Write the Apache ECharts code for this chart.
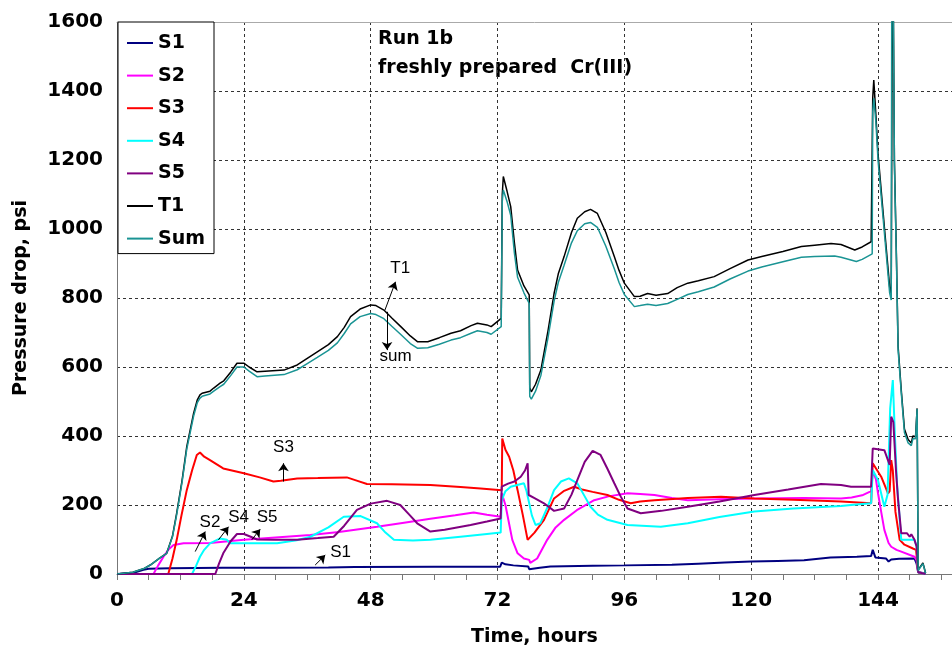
<!DOCTYPE html>
<html><head><meta charset="utf-8">
<script src="https://cdn.jsdelivr.net/npm/echarts@6/dist/echarts.min.js"></script>
<style>html,body{margin:0;padding:0;background:#fff}#c{width:952px;height:656px}</style>
</head><body><div id="c"></div>
<script>
// ---- data: [time (hours), pressure drop (psi)] ----
const seriesNames = ['S1','S2','S3','S4','S5','T1','Sum'];
const seriesColors = ['#000080','#FF00FF','#FF0000','#00FFFF','#800080','#000000','#1A9494'];
const seriesWidths = [2,2,2,2,2,1.5,1.5];

const s1 = [[0,0],[3,3],[5,12],[6,15],[10,17],[20,18],[30,18],[40,19],[45,20],[60,21],[72.5,21],[72.8,33],[73.5,28],[75,25],[77.8,22],[78,14],[80,18],[82,22],[90,24],[96,25],[105,27],[110,30],[115,33],[120,36],[125,38],[130,40],[135,48],[140,50],[142.7,52],[143,70],[143.5,48],[145.5,45],[146,36],[146.5,42],[148,44],[150.9,45],[151.3,30],[151.6,5],[152.5,3],[153,0]];

const s2 = [[0,0],[6.9,0],[7.8,25],[8.8,50],[9.8,72],[10.7,84],[12.6,89],[17.6,90],[24,99],[30,106],[36.6,113],[42,122],[49.2,137],[54,148],[59.3,160],[64,170],[67.5,178],[70,172],[72.6,166],[72.8,234],[73.5,200],[74.8,99],[75.8,60],[77,45],[78,41],[78.2,32],[79.5,45],[81.4,99],[83,135],[84.6,157],[87,185],[90.3,214],[93,225],[96.6,234],[99,232],[101.7,229],[105,220],[108,214],[114,217],[120.6,219],[130,220],[137,219],[139,222],[141,228],[142.7,240],[143,300],[143.6,275],[144,234],[144.6,180],[145.2,128],[146,90],[146.5,79],[147.5,70],[148.4,65],[150.9,50],[151.3,40],[151.6,5],[153,0]];

const s3 = [[0,0],[9.7,0],[10.5,45],[11.3,99],[12.2,170],[13.2,243],[14.2,300],[15.1,345],[15.7,352],[16.5,340],[17.6,330],[20.1,306],[24,292],[27,280],[29.6,268],[31,270],[34.1,277],[38,278],[43.5,280],[45.5,270],[47.3,261],[52,260],[59.3,258],[65,252],[68.8,248],[72.8,243],[72.9,393],[73.5,360],[74.2,340],[75,300],[75.8,243],[76.8,170],[77.7,99],[78,100],[79,120],[80.8,157],[82.7,219],[84.5,240],[86.5,253],[88,245],[90,238],[92.8,229],[95,215],[97.2,205],[99,210],[101.7,214],[108,220],[114.3,224],[120.6,219],[128,215],[137,210],[142.7,205],[143,321],[143.3,321],[144.6,282],[145.9,234],[146.2,240],[146.5,330],[146.8,300],[147.3,180],[148.1,99],[149,85],[150.6,74],[151.2,70],[151.6,5],[153,0]];

const s4 = [[0,0],[14.2,0],[15,25],[15.7,50],[16.5,70],[17.6,89],[19.5,103],[20.8,99],[21.4,89],[24,89],[30.3,89],[34,98],[36.6,108],[40,135],[42.9,166],[46.1,168],[49.2,147],[50.8,120],[52.4,99],[56,97],[59.3,99],[65,108],[70,116],[72.6,120],[72.8,214],[73.5,240],[74.5,253],[77,263],[77.5,240],[78.5,170],[79.2,142],[80.1,147],[81.5,195],[82.7,243],[84,268],[85.5,277],[87.1,263],[88.5,225],[89.6,195],[91,172],[92.8,157],[96.6,142],[102.9,137],[108,147],[114,165],[120.6,181],[128,190],[137,197],[138.9,200],[142.7,205],[143,301],[143.4,290],[144,272],[145.2,195],[145.8,230],[146.3,480],[146.8,562],[147.2,400],[147.6,260],[148,180],[148.4,99],[150.9,99],[151.3,80],[151.6,5],[153,0]];

const s5 = [[0,0],[18.6,0],[19.3,30],[20.1,60],[21.5,95],[22.7,116],[24,116],[25.3,108],[26.5,100],[30,99],[34.1,99],[38,104],[41,108],[43,140],[45.4,186],[48,204],[51.1,212],[53.6,200],[55.3,172],[56.8,147],[59.3,123],[62,128],[66.9,142],[70,152],[72.6,161],[72.8,253],[74,262],[75.2,268],[76.4,282],[77.2,300],[77.7,321],[77.9,229],[79,220],[80.8,205],[82.7,183],[84.6,190],[86,230],[87.1,272],[88.5,325],[90,357],[91.5,345],[92.8,305],[94.1,263],[95.3,225],[96.6,190],[99.1,176],[103,183],[108,195],[114,210],[120.6,229],[127,245],[133.2,261],[137,258],[138.9,253],[142.7,253],[143,364],[145.2,359],[146.2,316],[146.5,456],[146.9,440],[147.4,300],[147.8,214],[148.4,118],[149.5,118],[150,108],[150.3,115],[150.9,99],[151.3,80],[151.6,5],[153,0]];

const t1 = [[0,0],[3,5],[5,15],[6.3,26],[8,45],[9.4,60],[10.5,110],[11.3,177],[12.3,270],[13.2,369],[14.5,466],[15.2,505],[15.7,519],[16.1,524],[17.6,530],[18.3,539],[19.5,553],[20.2,560],[21.5,585],[22.7,611],[24,611],[25,600],[26.5,586],[28,588],[31.6,591],[34.1,606],[36,625],[37.9,644],[40,665],[41.7,688],[43,715],[44.2,746],[46,768],[48,780],[49,778],[50.5,765],[52,742],[53.7,717],[55.5,690],[56.9,673],[58.8,673],[61,685],[63.2,698],[65,705],[67,720],[68.2,727],[70,722],[70.8,717],[72.7,741],[72.9,1100],[73.1,1152],[73.8,1110],[74.5,1065],[75.2,960],[75.8,881],[77,835],[78,809],[78.1,540],[78.4,528],[79.2,550],[80.2,591],[81.5,700],[82.7,813],[83.5,870],[84.6,920],[86,990],[87.1,1031],[88.5,1050],[89.6,1057],[90.9,1045],[92.5,990],[94.1,920],[95,880],[96,843],[97.9,804],[99,805],[100.4,813],[102,808],[104.2,813],[106,830],[108,843],[110,850],[113,862],[116,885],[119.4,910],[122,920],[126,935],[129.5,949],[132,953],[135.1,958],[137,955],[139.6,939],[141,948],[142.7,963],[143,1380],[143.2,1432],[143.6,1330],[144,1219],[145.2,1006],[146.2,833],[146.5,800],[146.7,1680],[146.9,1640],[147.1,1200],[147.5,910],[147.8,660],[148.4,533],[149,420],[149.7,390],[150.3,380],[150.6,400],[151.1,398],[151.4,480],[151.6,12],[152.5,32],[153,3]];

const sum = [[0,0],[3,5],[5,15],[6.3,26],[8,45],[9.4,60],[10.5,108],[11.3,172],[12.3,265],[13.2,362],[14.5,458],[15.2,497],[15.7,510],[16.1,515],[17.6,522],[18.3,530],[19.5,543],[20.2,550],[21.5,575],[22.7,600],[24,600],[25,588],[26.5,572],[28,574],[31.6,578],[34.1,592],[36,610],[37.9,628],[40,648],[41.7,670],[43,697],[44.2,725],[46,746],[48,755],[49,752],[50.5,740],[52,718],[53.7,694],[55.5,668],[56.9,654],[58.8,656],[61,666],[63.2,678],[65,685],[67,698],[68.2,705],[70,700],[70.8,695],[72.7,717],[72.9,1080],[73.1,1113],[73.8,1080],[74.5,1040],[75.2,930],[75.8,860],[77,815],[78,784],[78.1,515],[78.4,507],[79.2,530],[80.2,575],[81.5,680],[82.7,790],[83.5,845],[84.6,895],[86,960],[87.1,995],[88.5,1015],[89.6,1019],[90.9,1005],[92.5,950],[94.1,885],[95,845],[96,810],[97.9,775],[99,778],[100.4,782],[102,778],[104.2,784],[106,796],[108,810],[110,818],[113,832],[116,855],[119.4,878],[122,890],[126,905],[129.5,918],[132,920],[135.8,922],[137,918],[139.9,906],[141,912],[142.9,928],[143,1340],[143.2,1379],[143.6,1310],[144,1200],[145.2,990],[146.2,815],[146.5,794],[146.6,1680],[146.9,1640],[147.1,1190],[147.5,900],[147.8,650],[148.4,525],[149,410],[149.7,380],[150.3,372],[150.6,392],[151.1,392],[151.4,478],[151.6,10],[152.5,30],[153,2]];

const allSeries = [s1,s2,s3,s4,s5,t1,sum];

// axis ticks
const xMax = 158, xMajor = 24, xMinor = 6;
const yMax = 1600, yStep = 200;

// annotations
const annotText = ['T1','sum','S3','S2','S4','S5','S1'];
const annotPos = [[53.6,887],[52.7,632],[31.5,366],[17.6,149],[23,163],[28.4,163],[42.3,62]];
const arrowFrom = [[50.7,765],[51.1,760],[31.5,268],[14.8,65],[19.2,99],[25.5,99],[37.5,26]];
const arrowTo = [[52.7,847],[51.1,649],[31.5,321],[16.7,123],[21.1,137],[27.1,130],[39.4,55]];

const titleLines = ['Run 1b','freshly prepared  Cr(III)'];

const F = 'DejaVu Sans';
const chart = echarts.init(document.getElementById('c'));

const lineSeries = seriesNames.map((n,i)=>({
  name:n, type:'line', data:allSeries[i], symbol:'none', showSymbol:false,
  lineStyle:{color:seriesColors[i], width:seriesWidths[i]}, itemStyle:{color:seriesColors[i]},
  animation:false, z:2+i*0.01
}));

const annotSeries = {
  name:'annot', type:'scatter', symbolSize:0, silent:true, animation:false, z:5,
  itemStyle:{opacity:1, color:'#000'},
  data: annotPos.map((p,i)=>({value:p, name:annotText[i]})),
  label:{show:true, position:'inside', formatter:p=>p.name, color:'#000', opacity:1,
    textBorderWidth:0, fontFamily:'Liberation Sans', fontSize:17},
  markLine:{
    silent:true, animation:false, symbol:['none','arrow'], symbolSize:8,
    lineStyle:{color:'#000', width:1, type:'solid', opacity:1}, label:{show:false},
    data: arrowFrom.map((f,i)=>[{coord:f},{coord:arrowTo[i]}])
  }
};

const option = {
  animation:false,
  backgroundColor:'#fff',
  grid:{left:117, right:0, top:22, bottom:82},
  xAxis:[
    {type:'value', min:0, max:xMax, interval:xMajor,
     axisLine:{show:true, lineStyle:{color:'#777', width:1}}, axisTick:{show:false},
     axisLabel:{showMaxLabel:false, margin:17, color:'#000', fontFamily:F, fontWeight:'bold', fontSize:20,
       formatter:v=>String(v)},
     splitLine:{show:true, lineStyle:{type:[3,3], color:'#333', width:1}},
     name:'Time, hours', nameLocation:'middle', nameGap:54,
     nameTextStyle:{color:'#000', fontFamily:F, fontWeight:'bold', fontSize:19}},
    {type:'value', min:0, max:xMax, interval:xMinor, position:'bottom',
     axisLine:{show:false}, axisTick:{show:true, length:6, lineStyle:{color:'#777'}},
     axisLabel:{show:false}, splitLine:{show:false}},
    {type:'value', min:0, max:xMax, position:'top',
     axisLine:{show:true, lineStyle:{color:'#aaa'}}, axisTick:{show:false},
     axisLabel:{show:false}, splitLine:{show:false}}
  ],
  yAxis:{type:'value', min:0, max:yMax, interval:yStep,
    axisLine:{show:true, lineStyle:{color:'#777', width:1}}, axisTick:{show:false},
    axisLabel:{margin:14, color:'#000', fontFamily:F, fontWeight:'bold', fontSize:20,
      formatter:v=>String(v)},
    splitLine:{show:true, lineStyle:{type:[3,3], color:'#333', width:1}},
    name:'Pressure drop, psi', nameLocation:'middle', nameGap:86,
    nameTextStyle:{color:'#000', fontFamily:F, fontWeight:'bold', fontSize:19}},
  legend:{orient:'vertical', left:118, top:22,
    data:seriesNames.map(n=>({name:n, icon:'rect'})),
    backgroundColor:'#fff', borderColor:'#000', borderWidth:1,
    padding:[11,9,5,9], itemGap:12.6, itemWidth:26, itemHeight:2,
    textStyle:{color:'#000', fontFamily:F, fontWeight:'bold', fontSize:19, lineHeight:20}},
  graphic:titleLines.map((t,i)=>({type:'text', left:378, top:30+i*29,
    style:{text:t, font:'bold 19px "DejaVu Sans"', fill:'#000'}})),
  series:[...lineSeries, annotSeries]
};
chart.setOption(option);
</script></body></html>
